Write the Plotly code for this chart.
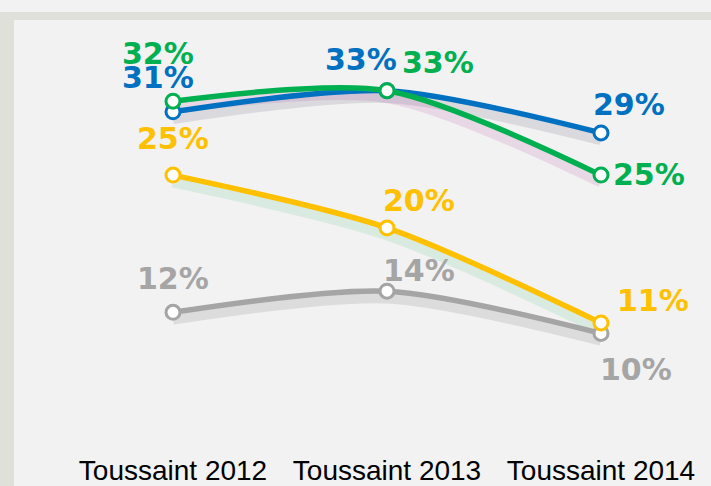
import plotly.graph_objects as go

categories = ["Toussaint 2012", "Toussaint 2013", "Toussaint 2014"]
gray_vals = [12, 14, 10]
yellow_vals = [25, 20, 11]
blue_vals = [31, 33, 29]
green_vals = [32, 33, 25]

series = [
    # name, values, colour, shadow colour, label offsets (px)
    ("gray", gray_vals, "#a5a5a5", "rgba(90,90,90,0.14)", [(0, 34), (32, 21), (35, -36)]),
    ("yellow", yellow_vals, "#ffc000", "rgba(0,176,80,0.10)", [(0, 37), (32, 27), (52, 22)]),
    ("blue", blue_vals, "#0070c0", "rgba(60,60,90,0.13)", [(-15, 34), (-26, 31), (28, 28)]),
    ("green", green_vals, "#00b050", "rgba(170,40,150,0.13)", [(-15, 48), (51, 28), (48, 1)]),
]

W, H = 711, 486
ML, MR, MT, MB = 66, 3, 59, 47
Y_RANGE = [0, 36]

fig = go.Figure()

# soft shadows
for name, vals, col, shcol, _ in series:
    fig.add_trace(go.Scatter(
        x=categories, y=[v - 0.6 for v in vals], mode="lines",
        line=dict(color=shcol, width=12, shape="spline", smoothing=0.8),
        hoverinfo="skip", showlegend=False))

for name, vals, col, shcol, offs in series:
    fig.add_trace(go.Scatter(
        x=categories, y=vals, mode="lines+markers", name=name,
        line=dict(color=col, width=5.5, shape="spline", smoothing=0.8),
        marker=dict(size=14, color="white", line=dict(color=col, width=3)),
        showlegend=False))
    for c, v, (dx, dy) in zip(categories, vals, offs):
        fig.add_annotation(x=c, y=v, text=f"{v}%", showarrow=False,
                           xshift=dx, yshift=dy,
                           font=dict(family="DejaVu Sans", size=30, color=col, weight="bold"))

# outer frame strips (left and top)
pw = W - ML - MR
ph = H - MT - MB
fig.add_shape(type="rect", xref="paper", yref="paper",
              x0=-ML / pw, x1=(14 - ML) / pw, y0=-MB / ph, y1=(H - MT) / ph,
              fillcolor="#e0e0da", line=dict(width=0), layer="below")
fig.add_shape(type="rect", xref="paper", yref="paper",
              x0=-ML / pw, x1=(W - ML) / pw, y0=(H - MT - 8) / ph, y1=(H - MT) / ph,
              fillcolor="#e0e0da", line=dict(width=0), layer="below")

fig.update_layout(
    width=W, height=H,
    margin=dict(l=ML, r=MR, t=MT, b=MB, autoexpand=False),
    paper_bgcolor="#f2f2f2", plot_bgcolor="rgba(0,0,0,0)",
    xaxis=dict(type="category", range=[-0.5, 2.5], showgrid=False, zeroline=False,
               showline=False, ticks="", ticklabelstandoff=12, automargin=False,
               tickfont=dict(family="Liberation Sans", size=28, color="#000000")),
    yaxis=dict(range=Y_RANGE, visible=False, showgrid=False, zeroline=False,
               automargin=False),
)

fig.write_html(
    "out.html",
    config={"displayModeBar": False},
    post_script=("document.body.style.margin='0';"
                 "document.documentElement.style.overflow='hidden';"
                 "document.body.style.overflow='hidden';window.scrollTo(0,0);"),
)
